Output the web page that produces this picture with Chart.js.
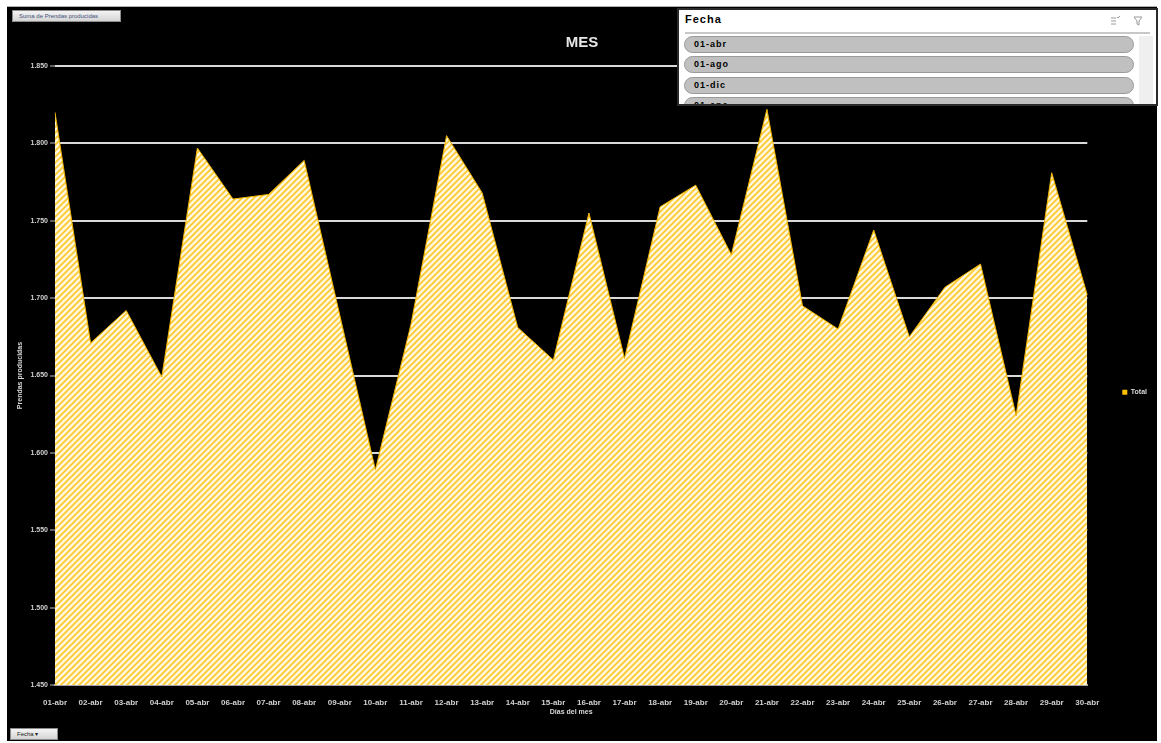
<!DOCTYPE html>
<html lang="es">
<head>
<meta charset="utf-8">
<title>MES</title>
<script src="https://cdn.jsdelivr.net/npm/chart.js@4.4.1/dist/chart.umd.min.js"></script>
<style>
  html, body { margin: 0; padding: 0; background: #fff; }
  body { width: 1161px; height: 743px; position: relative; overflow: hidden; font-family: "Liberation Sans", Arial, sans-serif; }
  #marco { position: absolute; left: 7px; top: 7px; width: 1150px; height: 734px; background: #000; box-shadow: 0 -1px 0 #b0b0b0; }
  #grafico { position: absolute; left: 0; top: 0; }
  .boton { position: absolute; background: linear-gradient(#f4f4f4, #d4d4d4); border: 1px solid #8c8c8c; font-size: 6px; color: #44507a; line-height: 11px; padding-left: 6px; box-sizing: border-box; white-space: nowrap; }
  #segmentador { position: absolute; left: 670px; top: 1px; width: 481px; height: 98px; background: #fff; border: 2px solid #2a2a2a; box-sizing: border-box; overflow: hidden; }
  #segmentador .cabecera { position: absolute; left: 6px; top: 3px; font-size: 11px; font-weight: bold; color: #000; letter-spacing: 1px; }
  #segmentador .linea { position: absolute; left: 6px; right: 6px; top: 22px; height: 2px; background: #c8c8c8; }
  #segmentador .iconos { position: absolute; right: 12px; top: 5px; }
  #segmentador .barra { position: absolute; right: 3px; top: 26px; width: 14px; bottom: 0; background: #efefef; }
  #segmentador .item { position: absolute; left: 5px; width: 450px; height: 17px; background: #c0c0c0; border: 1px solid #9a9a9a; border-radius: 9px; box-sizing: border-box; font-size: 9px; font-weight: bold; line-height: 15px; padding-left: 9px; color: #000; letter-spacing: 1px; }
</style>
</head>
<body>
<div id="marco">
  <canvas id="grafico" width="1150" height="734"></canvas>
  <div class="boton" style="left:5px; top:3px; width:109px; height:12px;">Suma de Prendas producidas</div>
  <div class="boton" style="left:3px; top:721px; width:48px; height:12px; color:#222;">Fecha &#9662;</div>
  <div id="segmentador">
    <div class="cabecera">Fecha</div>
    <svg class="iconos" width="34" height="12" viewBox="0 0 34 12">
      <g stroke="#9a9a9a" stroke-width="1" fill="none">
        <path d="M1 3h5M1 6h5M1 9h5M7 2l1 1 2-2"/>
        <path d="M24 2h8l-3 4v4l-2-1v-3z"/>
      </g>
    </svg>
    <div class="linea"></div>
    <div class="barra"></div>
    <div class="item" style="top:26px;">01-abr</div>
    <div class="item" style="top:46px;">01-ago</div>
    <div class="item" style="top:67px;">01-dic</div>
    <div class="item" style="top:87px;">01-ene</div>
  </div>
</div>

<script>
// Días del mes (abril) y prendas producidas por día
const dias = ['01-abr', '02-abr', '03-abr', '04-abr', '05-abr', '06-abr', '07-abr', '08-abr', '09-abr', '10-abr',
              '11-abr', '12-abr', '13-abr', '14-abr', '15-abr', '16-abr', '17-abr', '18-abr', '19-abr', '20-abr',
              '21-abr', '22-abr', '23-abr', '24-abr', '25-abr', '26-abr', '27-abr', '28-abr', '29-abr', '30-abr'];

const prendas = [1820, 1671, 1692, 1649, 1797, 1764, 1767, 1789, 1689, 1589,
                 1683, 1805, 1768, 1681, 1660, 1755, 1661, 1759, 1773, 1728,
                 1822, 1695, 1680, 1744, 1675, 1707, 1722, 1624, 1781, 1702];

const marcasY = [1450, 1500, 1550, 1600, 1650, 1700, 1750, 1800, 1850];

// separador de miles con punto: 1850 -> "1.850"
function conPunto(valor) {
  return String(valor).replace(/\B(?=(\d{3})+(?!\d))/g, '.');
}

// relleno rayado en diagonal para el área
function crearRayado() {
  const c = document.createElement('canvas');
  c.width = 6;
  c.height = 6;
  const g = c.getContext('2d');
  g.fillStyle = '#fff7da';
  g.fillRect(0, 0, 6, 6);
  g.strokeStyle = '#ffc72e';
  g.lineWidth = 1.6;
  g.beginPath();
  g.moveTo(0, 6); g.lineTo(6, 0);
  g.moveTo(-3, 3); g.lineTo(3, -3);
  g.moveTo(3, 9); g.lineTo(9, 3);
  g.stroke();
  return g.createPattern(c, 'repeat');
}

Chart.defaults.font.family = '"Liberation Sans", Arial, sans-serif';

const ctx = document.getElementById('grafico').getContext('2d');

new Chart(ctx, {
  type: 'line',
  data: {
    labels: dias,
    datasets: [{
      label: 'Total',
      data: prendas,
      fill: 'start',
      backgroundColor: crearRayado(),
      borderColor: '#f0b400',
      borderWidth: 1,
      pointRadius: 0,
      tension: 0
    }]
  },
  options: {
    responsive: false,
    animation: false,
    layout: { padding: { left: 0, right: 0, top: 0, bottom: 0 } },
    plugins: {
      title: {
        display: true,
        text: 'MES',
        color: '#e6e6e6',
        font: { size: 15, weight: 'bold' },
        padding: { top: 27, bottom: 14 }
      },
      legend: {
        position: 'right',
        align: 'center',
        title: { display: true, text: '', font: { size: 7 }, padding: { top: 28, bottom: 0 } },
        labels: {
          color: '#d9d9d9',
          font: { size: 7, weight: 'bold' },
          boxWidth: 5,
          boxHeight: 5,
          padding: 35,
          generateLabels: chart => Chart.defaults.plugins.legend.labels.generateLabels(chart)
            .map(l => ({ ...l, fillStyle: '#ffc000', strokeStyle: '#ffc000', lineWidth: 0 }))
        }
      },
      tooltip: { enabled: false }
    },
    scales: {
      x: {
        afterFit: scale => { scale.height = 56; },
        grid: { display: false },
        border: { display: true, color: '#a6a6a6', width: 2 },
        ticks: {
          color: '#d0d0d0',
          font: { size: 8, weight: 'bold' },
          maxRotation: 0,
          autoSkip: false,
          padding: 5
        },
        title: {
          display: true,
          text: 'Días del mes',
          color: '#d9d9d9',
          font: { size: 7, weight: 'bold' },
          padding: { top: 0, bottom: 25 }
        }
      },
      y: {
        min: 1450,
        max: 1850,
        afterFit: scale => { scale.width = 48; },
        afterBuildTicks: scale => { scale.ticks = marcasY.map(v => ({ value: v })); },
        grid: { color: '#d9d9d9', lineWidth: 2, tickLength: 5, tickColor: '#bfbfbf', tickWidth: 1 },
        border: { display: false },
        ticks: {
          color: '#d0d0d0',
          font: { size: 7, weight: 'bold' },
          padding: 2,
          callback: v => conPunto(v)
        },
        title: {
          display: true,
          text: 'Prendas producidas',
          color: '#d9d9d9',
          font: { size: 7, weight: 'bold' },
          padding: { top: 9, bottom: 0 }
        }
      }
    }
  }
});
</script>
</body>
</html>
